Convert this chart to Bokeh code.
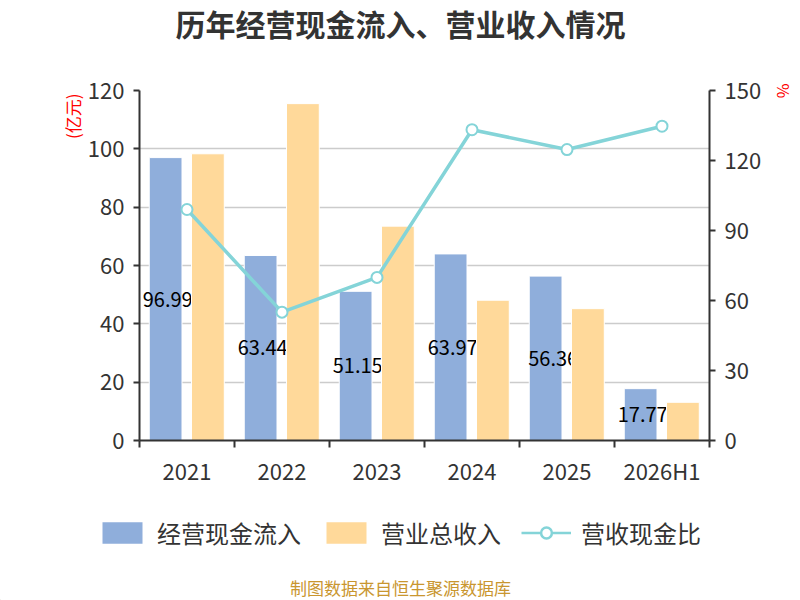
import numpy as np
from bokeh.plotting import figure
from bokeh.layouts import column
from bokeh.models import (Range1d, LinearAxis, FixedTicker, Title, Legend, LegendItem)
from bokeh.core.properties import value
from bokeh.embed import file_html
from bokeh.resources import INLINE

# ---- data ----
categories = ["2021", "2022", "2023", "2024", "2025", "2026H1"]
cash_inflow = [96.994, 63.444, 51.152, 63.974, 56.36, 17.773]
cash_labels = ["96.994", "63.444", "51.152", "63.974", "56.36", "17.773"]
revenue = [98.3, 115.5, 73.5, 48.1, 45.2, 13.1]
ratio = [99.0, 55.0, 69.9, 133.2, 124.7, 134.7]
left_ticks = [0, 20, 40, 60, 80, 100, 120]
right_ticks = [0, 30, 60, 90, 120, 150]
series_names = ["经营现金流入", "营业总收入", "营收现金比"]
title_text = "历年经营现金流入、营业收入情况"
source_text = "制图数据来自恒生聚源数据库"

FONT = "Noto Sans CJK SC"
BLUE = "#8FAEDB"
ORANGE = "#FFD99A"
TEAL = "#84D4D8"
TXT = "#333333"
W = 800


def blank_fig(h):
    f = figure(width=W, height=h, output_backend="svg", toolbar_location=None,
               x_range=Range1d(0, W), y_range=Range1d(0, h),
               min_border=0, x_axis_location=None, y_axis_location=None,
               frame_align=False)
    f.outline_line_color = None
    f.xgrid.visible = False
    f.ygrid.visible = False
    return f


# ---- title strip ----
top = blank_fig(60)
top.text(x=[400], y=[60 - 22], text=[title_text], text_font=value(FONT),
         text_font_size="30px", text_font_style="bold", text_color=TXT,
         text_align="center", text_baseline="middle")

# ---- main chart ----
n = len(categories)
centers = np.arange(n) + 0.5
boundaries = list(np.arange(n + 1).astype(float))

p = figure(width=W, height=430, output_backend="svg", toolbar_location=None,
           x_range=Range1d(0, n), y_range=Range1d(0, 120),
           min_border_left=139, min_border_right=90, min_border_top=30,
           min_border_bottom=50, y_axis_location=None, x_axis_location=None,
           frame_align=False)
p.outline_line_color = None
p.extra_y_ranges = {"pct": Range1d(0, 150)}

xaxis = LinearAxis(ticker=FixedTicker(ticks=list(centers), minor_ticks=boundaries))
xaxis.major_label_overrides = {float(c): lab for c, lab in zip(centers, categories)}
xaxis.major_tick_line_color = None
xaxis.minor_tick_out = 7
xaxis.minor_tick_in = 0
xaxis.minor_tick_line_color = TXT
xaxis.minor_tick_line_width = 2
xaxis.axis_line_color = TXT
xaxis.axis_line_width = 2
xaxis.major_label_text_font = FONT
xaxis.major_label_text_font_size = "22px"
xaxis.major_label_text_color = TXT
xaxis.major_label_standoff = 6
p.add_layout(xaxis, "below")

for rng, ticks, side in ((None, left_ticks, "left"), ("pct", right_ticks, "right")):
    ax = LinearAxis(ticker=FixedTicker(ticks=ticks))
    if rng:
        ax.y_range_name = rng
    ax.axis_line_color = TXT
    ax.axis_line_width = 2
    ax.major_tick_out = 6
    ax.major_tick_in = 0
    ax.major_tick_line_color = TXT
    ax.major_tick_line_width = 2
    ax.minor_tick_line_color = None
    ax.major_label_text_font = FONT
    ax.major_label_text_font_size = "22px"
    ax.major_label_text_color = TXT
    ax.major_label_standoff = 9
    p.add_layout(ax, side)

p.xgrid.visible = False
p.ygrid.ticker = FixedTicker(ticks=left_ticks)
p.ygrid.grid_line_color = "#cccccc"
p.ygrid.grid_line_width = 1.5

bw = 0.345
p.vbar(x=centers - 0.225, top=cash_inflow, width=bw, fill_color=BLUE,
       line_color="white", line_width=1)
p.text(x=centers - 0.145, y=np.array(cash_inflow) / 2, text=cash_labels,
       text_font=value(FONT), text_font_size="20px", text_color="black",
       text_align="center", text_baseline="middle")
p.vbar(x=centers + 0.22, top=revenue, width=bw, fill_color=ORANGE,
       line_color="white", line_width=1)
p.line(x=centers, y=ratio, y_range_name="pct", line_color=TEAL, line_width=3.5)
p.scatter(x=centers, y=ratio, y_range_name="pct", size=11, fill_color="white",
          line_color=TEAL, line_width=2)

p.add_layout(Title(text="(亿元)", align="right", offset=3, text_font=FONT,
                   text_font_size="17px", text_font_style="normal", text_color="red",
                   standoff=0), "left")
p.add_layout(Title(text="%", align="left", offset=-7, vertical_align="top", text_font=FONT,
                   text_font_size="16px", text_font_style="normal", text_color="red",
                   standoff=10), "right")

# ---- legend + source strip ----
bot = blank_fig(110)
lb = bot.vbar(x=[-1000], top=[1], width=1, fill_color=BLUE, line_color=None)
lo = bot.vbar(x=[-1000], top=[1], width=1, fill_color=ORANGE, line_color=None)
ll = bot.line(x=[-1000, -999], y=[1, 1], line_color=TEAL, line_width=2.5)
lp = bot.scatter(x=[-1000], y=[1], size=23, fill_color="white", line_color=TEAL,
                 line_width=2.5)
legend = Legend(items=[LegendItem(label=series_names[0], renderers=[lb]),
                       LegendItem(label=series_names[1], renderers=[lo]),
                       LegendItem(label=series_names[2], renderers=[ll, lp])],
                orientation="horizontal", location=(97, 110 - 60),
                glyph_width=50, glyph_height=27, label_standoff=10, spacing=20,
                padding=0, margin=0, border_line_color=None,
                background_fill_alpha=0,
                label_text_font=FONT, label_text_font_size="24px",
                label_text_color=TXT, label_height=27)
bot.add_layout(legend, "center")
bot.text(x=[400], y=[110 - 97], text=[source_text], text_font=value(FONT),
         text_font_size="17px", text_color="#C9962F",
         text_align="center", text_baseline="middle")

layout = column(top, p, bot, spacing=0)
open("out.html", "w").write(file_html(layout, INLINE))
